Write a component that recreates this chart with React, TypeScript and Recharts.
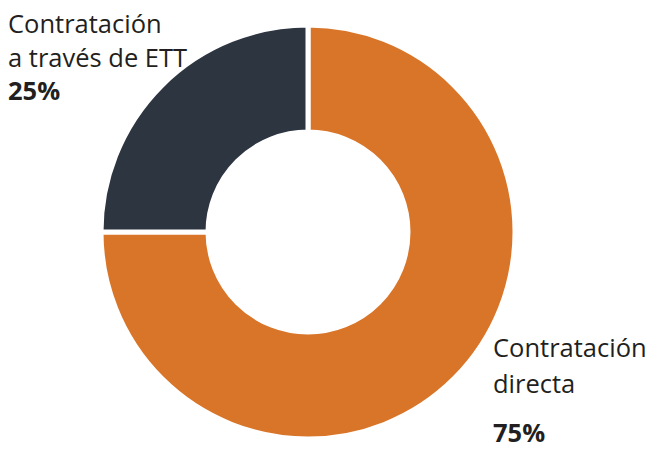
import { Cell, Pie, PieChart } from 'recharts'

const categories = ['Contratación directa', 'Contratación a través de ETT']
const shares = [75, 25]
const labelLines = [
  ['Contratación', 'directa'],
  ['Contratación', 'a través de ETT'],
]
const colors = ['#d97528', '#2d3540']

const data = categories.map((name, i) => ({ name, value: shares[i] }))

const FONT = '"Open Sans", "Noto Sans", sans-serif'

function renderLabel(props: any) {
  const { index, cx, cy } = props
  const lines = labelLines[index]
  const pct = `${shares[index]}%`
  if (index === 0) {
    // bottom right, below the arc
    const x = cx + 185
    return (
      <text x={x} y={cy + 125} fill="#231f20" fontFamily={FONT} fontSize={25.5}>
        <tspan x={x} dy={0}>{lines[0]}</tspan>
        <tspan x={x} dy={36}>{lines[1]}</tspan>
        <tspan x={x} dy={49} fontWeight="bold">{pct}</tspan>
      </text>
    )
  }
  const x = cx - 300
  return (
    <text x={x} y={cy - 199} fill="#231f20" fontFamily={FONT} fontSize={25.5}>
      <tspan x={x} dy={0}>{lines[0]}</tspan>
      <tspan x={x} dy={34}>{lines[1]}</tspan>
      <tspan x={x} dy={33} fontWeight="bold">{pct}</tspan>
    </text>
  )
}

export default function App() {
  return (
    <div style={{ position: 'absolute', left: 0, top: 0, width: 650, height: 450, background: '#fff' }}>
      <PieChart width={650} height={450} margin={{ top: 0, right: 0, bottom: 0, left: 0 }}>
        <Pie
          data={data}
          dataKey="value"
          nameKey="name"
          cx={308}
          cy={232}
          innerRadius={100}
          outerRadius={207}
          startAngle={90}
          endAngle={-270}
          stroke="#ffffff"
          strokeWidth={5}
          label={renderLabel}
          labelLine={false}
          isAnimationActive={false}
        >
          {data.map((d, i) => (
            <Cell key={d.name} fill={colors[i]} />
          ))}
        </Pie>
      </PieChart>
    </div>
  )
}
